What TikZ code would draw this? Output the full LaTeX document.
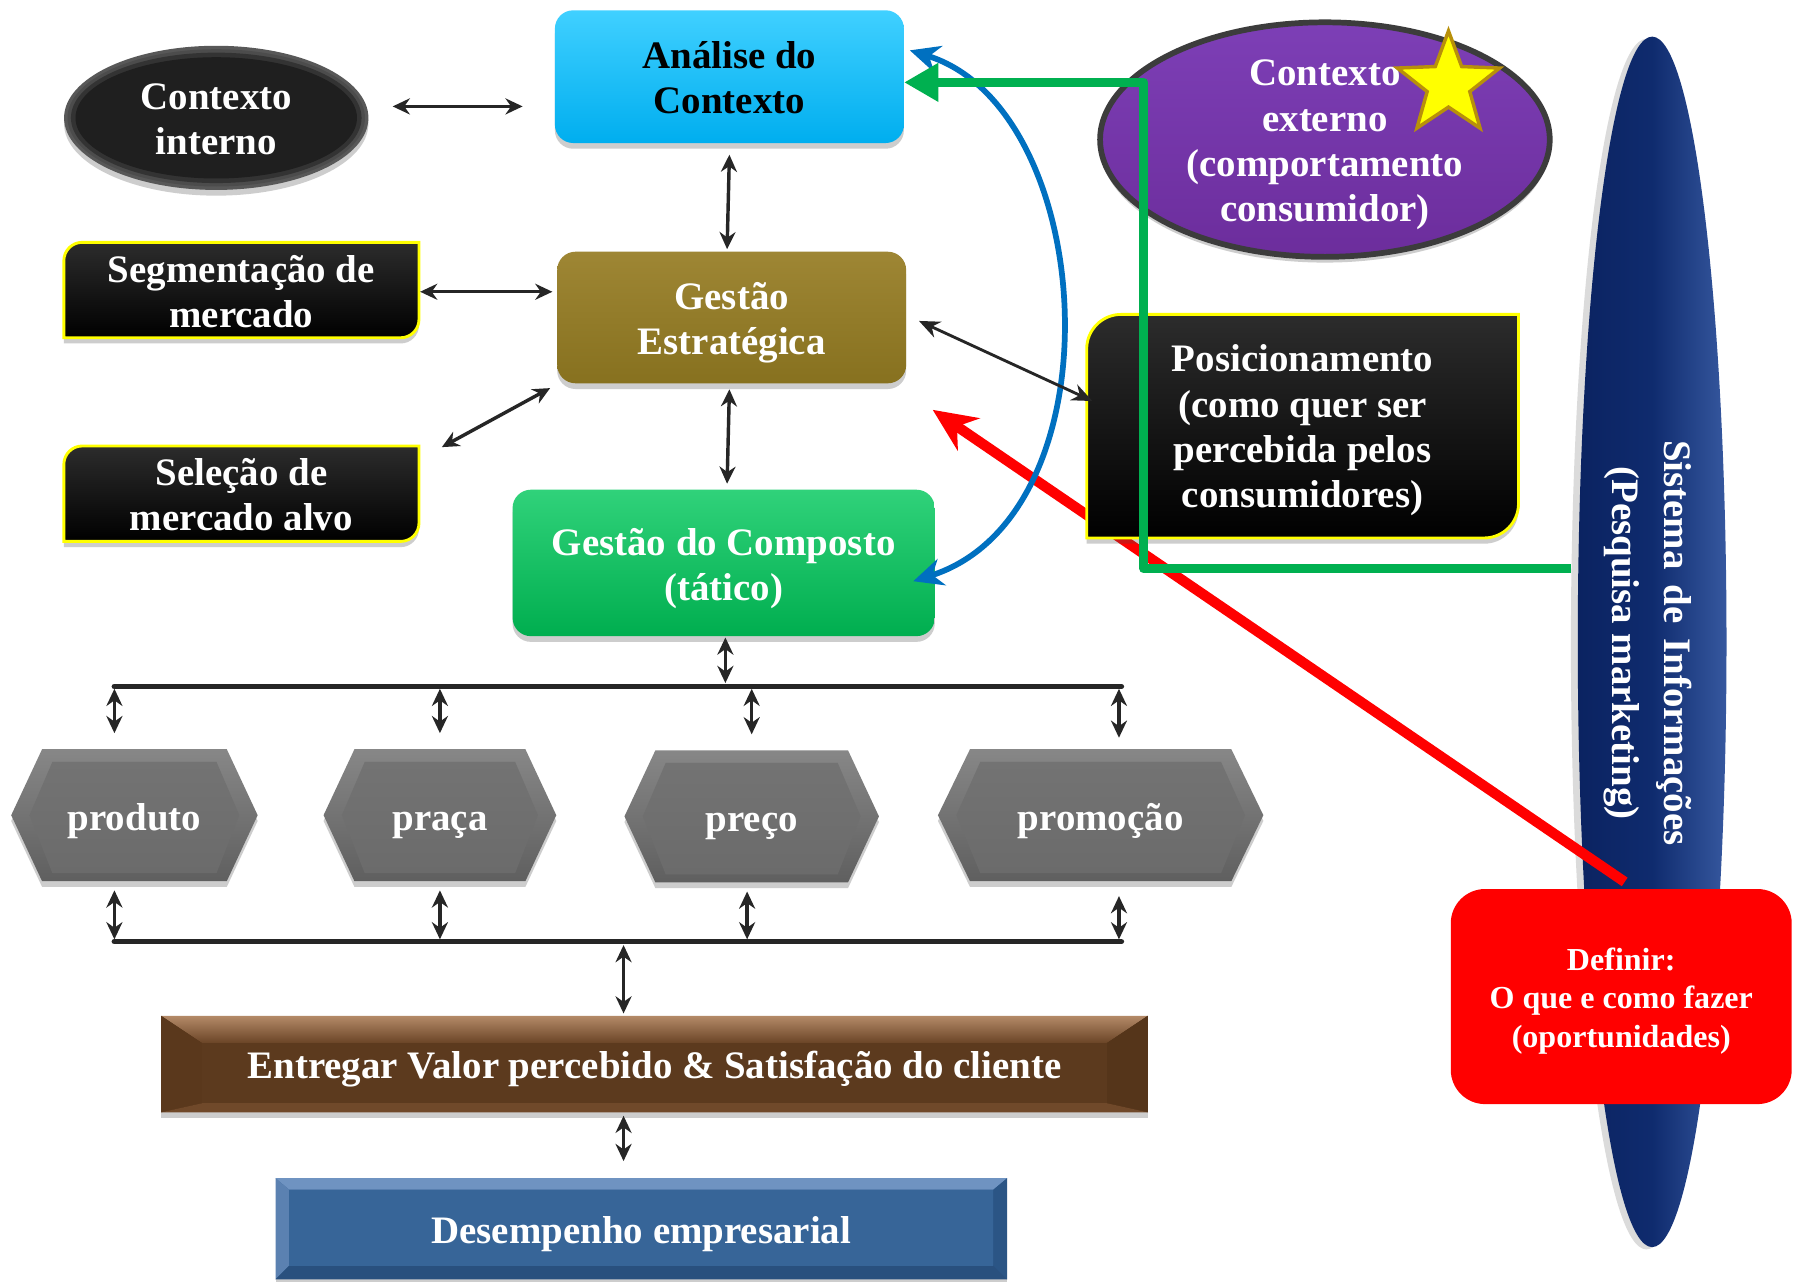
\documentclass[tikz,border=0pt]{standalone}
\usepackage{fontspec}
\setmainfont{Liberation Serif}
\usetikzlibrary{arrows.meta,calc,shapes.geometric,shadows}

\definecolor{ink}{HTML}{262626}
\definecolor{cyanTop}{HTML}{40D0FF}
\definecolor{cyanBot}{HTML}{00AEEF}
\definecolor{oliveTop}{HTML}{9E8634}
\definecolor{oliveBot}{HTML}{87711F}
\definecolor{greenTop}{HTML}{30D27A}
\definecolor{greenBot}{HTML}{00AE4F}
\definecolor{lineGreen}{HTML}{00B050}
\definecolor{lineBlue}{HTML}{0070C0}
\definecolor{lineRed}{HTML}{FF0000}
\definecolor{purpleTop}{HTML}{7D3FB6}
\definecolor{purpleBot}{HTML}{6C2D9C}
\definecolor{rimGray}{HTML}{3C3C3C}
\definecolor{starFill}{HTML}{FFFF00}
\definecolor{starEdge}{HTML}{B8900A}
\definecolor{frameYellow}{HTML}{FFFF00}
\definecolor{plateTop}{HTML}{2C2C2C}
\definecolor{hexLight}{HTML}{878787}
\definecolor{hexDark}{HTML}{5F5F5F}
\definecolor{hexFaceTop}{HTML}{737373}
\definecolor{hexFaceBot}{HTML}{6B6B6B}
\definecolor{navyL}{HTML}{0B2361}
\definecolor{navyM}{HTML}{0F2B6E}
\definecolor{navyR}{HTML}{36589F}
\definecolor{defRed}{HTML}{FF0000}

\pgfdeclarelayer{deep}
\pgfdeclarelayer{low}
\pgfdeclarelayer{background}
\pgfsetlayers{deep,low,background,main}

% black plate with rounded top-left and bottom-right corners
\newcommand\roundDiag[2]{%
  \path[diagbox] ([yshift=-#2pt]#1.north west)
    .. controls ([yshift=-0.45*#2pt]#1.north west) and ([xshift=0.45*#2pt]#1.north west) .. ([xshift=#2pt]#1.north west)
    -- (#1.north east) -- ([yshift=#2pt]#1.south east)
    .. controls ([yshift=0.45*#2pt]#1.south east) and ([xshift=-0.45*#2pt]#1.south east) .. ([xshift=-#2pt]#1.south east)
    -- (#1.south west) -- cycle;}

% bevelled hexagon around a plate node
\newcommand\hexPlate[2]{%
  \path[hexouter] (#1.west) -- ([xshift=#2pt]#1.north west) -- ([xshift=-#2pt]#1.north east)
    -- (#1.east) -- ([xshift=-#2pt]#1.south east) -- ([xshift=#2pt]#1.south west) -- cycle;
  \path[hexface] ([xshift=16pt]#1.west) -- ([xshift=#2pt+9pt,yshift=-11pt]#1.north west)
    -- ([xshift=-#2pt-9pt,yshift=-11pt]#1.north east) -- ([xshift=-16pt]#1.east)
    -- ([xshift=-#2pt-9pt,yshift=7pt]#1.south east) -- ([xshift=#2pt+9pt,yshift=7pt]#1.south west) -- cycle;}

% bevelled rectangle: node, side inset, top inset, bottom inset, style family
\newcommand\bevelPlate[5]{%
  \path[#5 base] (#1.north west) rectangle (#1.south east);
  \path[#5 top] (#1.north west) -- (#1.north east) -- ([xshift=-#2pt,yshift=-#3pt]#1.north east)
    -- ([xshift=#2pt,yshift=-#3pt]#1.north west) -- cycle;
  \path[#5 left] (#1.north west) -- ([xshift=#2pt,yshift=-#3pt]#1.north west)
    -- ([xshift=#2pt,yshift=#4pt]#1.south west) -- (#1.south west) -- cycle;
  \path[#5 right] (#1.north east) -- ([xshift=-#2pt,yshift=-#3pt]#1.north east)
    -- ([xshift=-#2pt,yshift=#4pt]#1.south east) -- (#1.south east) -- cycle;
  \path[#5 bottom] (#1.south west) -- ([xshift=#2pt,yshift=#4pt]#1.south west)
    -- ([xshift=-#2pt,yshift=#4pt]#1.south east) -- (#1.south east) -- cycle;
  \path[#5 face] ([xshift=#2pt,yshift=-#3pt]#1.north west) rectangle ([xshift=-#2pt,yshift=#4pt]#1.south east);}

\begin{document}
\begin{tikzpicture}[x=1pt,y=-1pt,
  lbl/.style={font=\bfseries\fontsize{34}{39.5}\selectfont, align=center, text=white, inner sep=0pt,
              execute at begin node={\rule{0pt}{34pt}}, execute at end node={\rule[-8pt]{0pt}{8pt}}},
  softshadow/.style={drop shadow={shadow xshift=0pt, shadow yshift=-5pt, opacity=.28, fill=black!70}},
  plate/.style={rectangle, inner sep=0pt, draw=none},
  roundbox/.style={rectangle, rounded corners=16pt, inner sep=0pt, softshadow},
  dbl/.style={{Stealth[length=15pt,width=14pt]}-{Stealth[length=15pt,width=14pt]}, line width=3pt, draw=ink},
  dblthin/.style={{Stealth[length=18pt,width=15pt]}-{Stealth[length=18pt,width=15pt]}, line width=2.5pt, draw=ink},
  bus/.style={line width=5pt, draw=ink, line cap=round},
  greenlink/.style={-{Triangle[length=30pt,width=32pt]}, line width=8pt, draw=lineGreen, line join=round},
  bluelink/.style={{Stealth[length=26pt,width=24pt]}-{Stealth[length=26pt,width=24pt]}, line width=5pt, draw=lineBlue},
  redlink/.style={-{Stealth[length=38pt,width=34pt]}, line width=9pt, draw=lineRed},
  diagbox/.style={top color=plateTop, bottom color=black, draw=frameYellow, line width=2.5pt, softshadow},
  hexouter/.style={top color=hexLight, bottom color=hexDark, softshadow},
  hexface/.style={top color=hexFaceTop, bottom color=hexFaceBot},
  brown base/.style={fill={rgb,255:red,78;green,47;blue,22}, softshadow},
  brown top/.style={top color={rgb,255:red,180;green,138;blue,104}, bottom color={rgb,255:red,106;green,68;blue,38}},
  brown left/.style={fill={rgb,255:red,90;green,56;blue,28}},
  brown right/.style={fill={rgb,255:red,85;green,53;blue,26}},
  brown bottom/.style={fill={rgb,255:red,112;green,73;blue,42}},
  brown face/.style={fill={rgb,255:red,92;green,58;blue,30}},
  blue base/.style={fill={rgb,255:red,47;green,92;blue,144}, softshadow},
  blue top/.style={fill={rgb,255:red,111;green,147;blue,193}},
  blue left/.style={fill={rgb,255:red,91;green,129;blue,177}},
  blue right/.style={fill={rgb,255:red,43;green,85;blue,133}},
  blue bottom/.style={fill={rgb,255:red,41;green,80;blue,126}},
  blue face/.style={fill={rgb,255:red,55;green,101;blue,152}},
  darkball/.style={ellipse, inner sep=0pt, fill={rgb,255:red,88;green,88;blue,88}, softshadow,
     path picture={
       \fill[black!70] (path picture bounding box.center) ellipse [x radius=130pt, y radius=60pt];
       \fill[black!80] (path picture bounding box.center) ellipse [x radius=127pt, y radius=57pt];
       \fill[black!88] (path picture bounding box.center) ellipse [x radius=123pt, y radius=53pt];}},
]

% page
\begin{pgfonlayer}{deep}
  \fill[white] (0,0) rectangle (1568,1120);
\end{pgfonlayer}
\useasboundingbox (0,0) rectangle (1568,1120);

% information-system spindle
\begin{pgfonlayer}{low}
  \fill[black!14] (1439,563) ellipse [x radius=66pt, y radius=529pt];
  \node[ellipse, inner sep=0pt, minimum width=130pt, minimum height=1058pt,
        left color=navyL, right color=navyR, middle color=navyM] (sis) at (1444,561) {};
\end{pgfonlayer}

% context nodes
\node[darkball, minimum width=266pt, minimum height=126pt] (ci) at (189,103) {};
\node[lbl] (ciT) at ($(ci)+(0,5)$) {Contexto\\interno};
\node[ellipse, inner sep=0pt, minimum width=393pt, minimum height=205pt, top color=purpleTop, bottom color=purpleBot,
      draw=rimGray, line width=5pt, softshadow] (cx) at (1158,122) {};
\node[lbl] (cxT) at ($(cx)+(0,5)$) {Contexto\\externo\\(comportamento\\consumidor)};
\node[star, star points=5, star point ratio=2.4, minimum size=94pt, inner sep=0pt, fill=starFill, draw=starEdge, line width=3pt] (star) at (1266,74) {};

% management boxes
\node[roundbox, minimum width=305pt, minimum height=116pt, top color=cyanTop, bottom color=cyanBot] (ana) at (637.5,67) {};
\node[lbl, text=black] (anaT) at ($(ana)+(0,5)$) {Análise do\\Contexto};
\node[roundbox, minimum width=305pt, minimum height=115pt, top color=oliveTop, bottom color=oliveBot] (gest) at (639.5,277.5) {};
\node[lbl] (gestT) at ($(gest)+(0,5)$) {Gestão\\Estratégica};
\node[roundbox, minimum width=369pt, minimum height=128pt, top color=greenTop, bottom color=greenBot] (comp) at (632.5,492) {};
\node[lbl] (compT) at ($(comp)+(0,5)$) {Gestão do Composto\\(tático)};

% black plates
\node[plate, minimum width=310pt, minimum height=83pt] (seg) at (211,253.5) {};
\node[lbl] (segT) at ($(seg)+(0,5)$) {Segmentação de\\mercado};
\node[plate, minimum width=310pt, minimum height=83pt] (sel) at (211,431.5) {};
\node[lbl] (selT) at ($(sel)+(0,5)$) {Seleção de\\mercado alvo};
\node[plate, minimum width=377pt, minimum height=195pt] (pos) at (1138.5,372.5) {};
\node[lbl] (posT) at ($(pos)+(0,4)$) {Posicionamento\\(como quer ser\\percebida pelos\\consumidores)};

% marketing mix
\node[plate, minimum width=215pt, minimum height=115pt, lbl] (prod) at (117.5,712.5) {produto};
\node[plate, minimum width=203pt, minimum height=115pt, lbl] (pra) at (384.5,712.5) {praça};
\node[plate, minimum width=222pt, minimum height=115pt, lbl] (pre) at (657,713.5) {preço};
\node[plate, minimum width=284pt, minimum height=115pt, lbl] (pro) at (962,712.5) {promoção};

% results
\node[plate, minimum width=862pt, minimum height=84pt, lbl] (ent) at (572,930) {Entregar Valor percebido \& Satisfação do cliente};
\node[plate, minimum width=639pt, minimum height=88pt, lbl] (des) at (560.5,1074) {Desempenho empresarial};

% information system and opportunities
\node[lbl, rotate=-90, font=\bfseries\fontsize{34}{45}\selectfont] (sist) at (1440,562) {Sistema\hskip 13pt de\hskip 13pt Informações\\(Pesquisa marketing)};
\node[rectangle, rounded corners=30pt, inner sep=0pt, fill=defRed, minimum width=298pt, minimum height=188pt] (def) at (1417,871) {};
\node[lbl, font=\bfseries\fontsize{28}{34}\selectfont] (defT) at ($(def)+(0,5)$) {Definir:\\O que e como fazer\\(oportunidades)};

% shapes behind the plate labels
\begin{pgfonlayer}{background}
  \roundDiag{seg}{16}
  \roundDiag{sel}{16}
  \roundDiag{pos}{30}
  \hexPlate{prod}{27}
  \hexPlate{pra}{27}
  \hexPlate{pre}{27}
  \hexPlate{pro}{28}
  \bevelPlate{ent}{36}{24}{8}{brown}
  \bevelPlate{des}{12}{10}{12}{blue}
\end{pgfonlayer}

% opportunity arrow runs over the spindle and under the plates
\begin{pgfonlayer}{low}
  \draw[redlink] ($(def.north)+(3,-6)$) -- ($(gest.south east)+(23,23)$);
\end{pgfonlayer}

% buses of the marketing mix
\coordinate (busA) at (100,600);
\coordinate (busB) at (980,600);
\coordinate (busC) at (100,823);
\coordinate (busD) at (980,823);
\coordinate (busM) at (545,823);
\draw[bus] (busA) -- (busB);
\draw[bus] (busC) -- (busD);

% black connectors
\draw[dbl] ($(ci.east)+(21,-10)$) -- ($(ana.west)+(-28,26)$);
\draw[dbl] ($(ana.south)+(0,10)$) -- ($(ana.south |- gest.north)+(-2,-2)$);
\draw[dbl] ($(seg.east)+(1,1.5)$) -- ($(seg.east -| gest.west)+(-4,1.5)$);
\draw[dbl] ($(sel.north east)+(20,1)$) -- ($(gest.south west)+(-6,4)$);
\draw[dbl] ($(gest.south)+(-2,5)$) -- ($(gest.south |- comp.north)+(-4,-5)$);
\draw[dbl] ($(comp.south)+(1.5,1)$) -- ($(comp.south |- busA)+(1.5,-3)$);

\draw[dbl] ($(busA)+(0,2)$) -- ($(prod.north -| busA)+(0,-14)$);
\draw[dbl] ($(pra.north |- busA)+(0,2)$) -- ($(pra.north)+(0,-14)$);
\draw[dbl] ($(pre.north |- busA)+(0,2)$) -- ($(pre.north)+(0,-14)$);
\draw[dbl] ($(busB)+(-2,2)$) -- ($(pro.north -| busB)+(-2,-10)$);

\draw[dbl] ($(prod.south -| busC)+(0,8)$) -- ($(busC)+(0,-2)$);
\draw[dbl] ($(pra.south)+(0,8)$) -- ($(pra.south |- busC)+(0,-2)$);
\draw[dbl] ($(pre.south)+(-4,8)$) -- ($(pre.south |- busC)+(-4,-2)$);
\draw[dbl] ($(pro.south -| busD)+(-2,13)$) -- ($(busD)+(-2,-2)$);

\draw[dbl] ($(busM)+(0,3)$) -- ($(ent.north -| busM)+(0,-2)$);
\draw[dbl] ($(ent.south -| busM)+(0,3)$) -- ($(des.north -| busM)+(0,-15)$);

% feedback loops
\draw[bluelink] ($(ana.east)+(5,-23)$) .. controls +(165,51) and +(182,-58) .. ($(comp.east)+(-19,16)$);
\draw[dblthin] ($(gest.east)+(11,3)$) -- ($(pos.west)+(5,-22)$);
\coordinate (gsrc) at ($(sis.west)+(-6,-64)$);
\draw[greenlink] (gsrc) -- ++(-373,0) |- ($(ana.east)+(0,5)$);

\end{tikzpicture}
\end{document}
